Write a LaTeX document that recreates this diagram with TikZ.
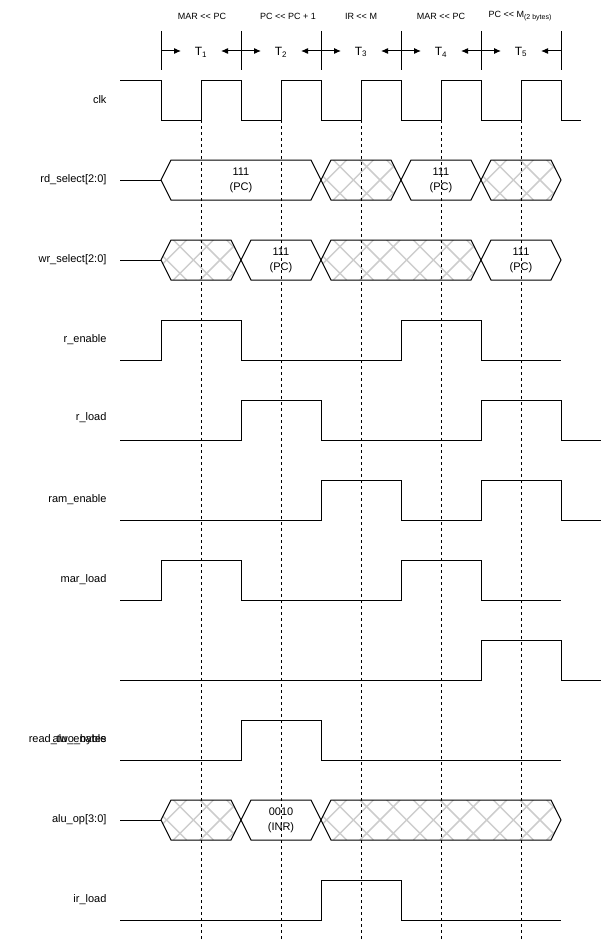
\documentclass[tikz,border=0pt]{standalone}
\usepackage{fontspec}
\setmainfont{Liberation Sans}
\usepackage{tikz}
\usetikzlibrary{arrows.meta}
\definecolor{hatchgrey}{RGB}{205,205,205}
\newcommand{\ltlt}{<\kern0pt<}
% bus with a value
\newcommand{\valbus}[3]{%
  \draw[sig] (#1,#3) -- ({#1+10},{#3-20}) -- ({#2-10},{#3-20}) -- (#2,#3) -- ({#2-10},{#3+20}) -- ({#1+10},{#3+20}) -- cycle;}
% bus with don't care
\newcommand{\hatchbus}[3]{%
  \begin{scope}
    \clip (#1,#3) -- ({#1+10},{#3-20}) -- ({#2-10},{#3-20}) -- (#2,#3) -- ({#2-10},{#3+20}) -- ({#1+10},{#3+20}) -- cycle;
    \foreach \k in {0,...,24} {
      \draw[hatch] ({-40+26.667*\k},{#3-20}) -- ++(40,40);
      \draw[hatch] ({-40+26.667*\k},{#3+20}) -- ++(40,-40);
    }
  \end{scope}
  \valbus{#1}{#2}{#3}}

\begin{document}
\begin{tikzpicture}[x=1pt,y=-1pt,
    sig/.style={line width=1pt},
    guide/.style={line width=0.8pt,dash pattern=on 3pt off 3pt},
    hatch/.style={hatchgrey,line width=1.5pt},
    arr/.style={line width=1pt,-{Latex[length=7pt,width=6pt]}},
    lbl/.style={anchor=east,font=\fontsize{11}{13}\selectfont},
    phase/.style={font=\fontsize{9}{11}\selectfont},
    tick/.style={font=\fontsize{12}{14}\selectfont},
    val/.style={align=center,font=\fontsize{11}{15}\selectfont}]
  \useasboundingbox (0,0) rectangle (603,942);

  % states
  \node[phase] (ph1) at (202,16) {MAR \ltlt{} PC};
  \node[phase] (ph2) at (288,16) {PC \ltlt{} PC + 1};
  \node[phase] (ph3) at (361,16) {IR \ltlt{} M};
  \node[phase] (ph4) at (441,16) {MAR \ltlt{} PC};
  \node[phase] (ph5) at (520,16) {PC \ltlt{} M\raisebox{-2.5pt}{\fontsize{7}{8}\selectfont(2 bytes)}};
  \foreach \i/\x in {1/161,2/241,3/321,4/401,5/481,6/561} {
    \draw[sig] (\x,31) -- (\x,70);
    \coordinate (b\i) at (\x,51);
  }
  \foreach \i in {1,...,5} {
    \node[tick] (t\i) at ({121+80*\i},52) {T\textsubscript{\i}};
    \draw[arr] (b\i) -- ([xshift=20pt]b\i);
  }
  \foreach \i in {2,...,6}
    \draw[arr] (b\i) -- ([xshift=-20pt]b\i);

  % signal names
  \node[lbl] (clk) at (110,100) {clk};
  \node[lbl] (rdsel) at (110,180) {rd\_select[2:0]};
  \node[lbl] (wrsel) at (110,260) {wr\_select[2:0]};
  \node[lbl] (ren) at (110,340) {r\_enable};
  \node[lbl] (rld) at (110,418) {r\_load};
  \node[lbl] (ramen) at (110,500) {ram\_enable};
  \node[lbl] (marld) at (110,580) {mar\_load};
  \node[lbl] (rdtwo) at (110,740) {read\_two\_bytes};
  \node[lbl] (aluen) at (110,740) {alu\_enable};
  \node[lbl] (aluop) at (110,820) {alu\_op[3:0]};
  \node[lbl] (irld) at (110,900) {ir\_load};

  % clock
  \draw[sig] (120,80) -| (161,120) -| (201,80) -| (241,120) -| (281,80) -| (321,120) -| (361,80)
    -| (401,120) -| (441,80) -| (481,120) -| (521,80) -| (561,120) -- (581,120);

  % rd_select
  \draw[sig] (120,180) -- (161,180);
  \valbus{161}{321}{180}
  \hatchbus{321}{401}{180}
  \valbus{401}{481}{180}
  \hatchbus{481}{561}{180}
  \node[val] (rd1) at (241,180) {111\\(PC)};
  \node[val] (rd2) at (441,180) {111\\(PC)};

  % wr_select
  \draw[sig] (120,260) -- (161,260);
  \hatchbus{161}{241}{260}
  \valbus{241}{321}{260}
  \hatchbus{321}{481}{260}
  \valbus{481}{561}{260}
  \node[val] (wr1) at (281,260) {111\\(PC)};
  \node[val] (wr2) at (521,260) {111\\(PC)};

  % single lines
  \draw[sig] (120,360) -| (161,320) -| (241,360) -| (401,320) -| (481,360) -- (561,360);
  \draw[sig] (120,440) -| (241,400) -| (321,440) -| (481,400) -| (561,440) -- (601,440);
  \draw[sig] (120,520) -| (321,480) -| (401,520) -| (481,480) -| (561,520) -- (601,520);
  \draw[sig] (120,600) -| (161,560) -| (241,600) -| (401,560) -| (481,600) -- (561,600);
  \draw[sig] (120,680) -| (481,640) -| (561,680) -- (601,680);
  \draw[sig] (120,760) -| (241,720) -| (321,760) -- (561,760);

  % alu_op
  \draw[sig] (120,820) -- (161,820);
  \hatchbus{161}{241}{820}
  \valbus{241}{321}{820}
  \hatchbus{321}{561}{820}
  \node[val] (alu1) at (281,820) {0010\\(INR)};

  \draw[sig] (120,920) -| (321,880) -| (401,920) -- (561,920);

  % clock edges
  \foreach \x in {201,281,361,441,521}
    \draw[guide] (\x,120) -- (\x,942);
\end{tikzpicture}
\end{document}
